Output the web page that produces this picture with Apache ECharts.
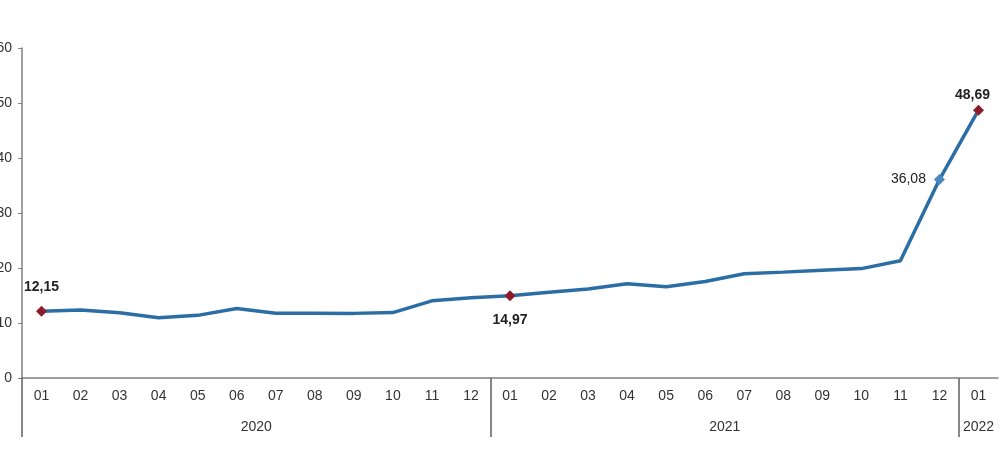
<!DOCTYPE html>
<html>
<head>
<meta charset="utf-8">
<script src="https://cdn.jsdelivr.net/npm/echarts@6/dist/echarts.min.js"></script>
<style>
  html, body { margin: 0; padding: 0; background: #fff; }
  #chart { width: 1000px; height: 471px; }
</style>
</head>
<body>
<div id="chart"></div>
<script>
// annual CPI change, %
var months = ['01','02','03','04','05','06','07','08','09','10','11','12',
              '01','02','03','04','05','06','07','08','09','10','11','12',
              '01'];
var years = ['2020', '2021', '2022'];
var yearSpans = [12, 12, 1];   // months per year group
var values = [12.15, 12.37, 11.86, 10.94, 11.39, 12.62, 11.76, 11.77, 11.75, 11.89, 14.03, 14.60,
              14.97, 15.61, 16.19, 17.14, 16.59, 17.53, 18.95, 19.25, 19.58, 19.89, 21.31, 36.08,
              48.69];
var labelled = [0, 12, 23, 24];

var darkRed = '#8b1c2c';
var lineBlue = '#2b6ea5';

function comma(v) {
    return String(v.toFixed(2)).replace('.', ',');
}

// year axis: half-month steps, label at the middle of each group
var yearAxisData = [];
var yearTicks = [];
(function () {
    var n = months.length * 2 + 1;
    for (var k = 0; k < n; k++) yearAxisData.push('');
    var start = 0;
    for (var i = 0; i < years.length; i++) {
        yearTicks.push(start * 2);
        yearAxisData[start * 2 + yearSpans[i]] = years[i];
        start += yearSpans[i];
    }
})();

var seriesData = values.map(function (v, i) {
    var item = { value: v, symbolSize: 0 };
    if (labelled.indexOf(i) < 0) return item;
    item.symbolSize = 11;
    item.itemStyle = { color: darkRed };
    item.label = { show: true, position: 'top', distance: 12, fontWeight: 'bold' };
    if (i === 12) {
        item.label.position = 'bottom';
    } else if (i === 23) {
        item.itemStyle = { color: '#4a88c0' };
        item.label = { show: true, position: 'left', distance: 8, fontWeight: 'normal' };
    } else if (i === 24) {
        item.label.distance = 3;
        item.label.offset = [-6, 0];
    }
    return item;
});

var chart = echarts.init(document.getElementById('chart'));
chart.setOption({
    animation: false,
    textStyle: { fontFamily: 'Liberation Sans, Arial, sans-serif' },
    grid: { left: 22, right: 2, top: 48, bottom: 93, containLabel: false, outerBoundsMode: 'none' },
    xAxis: [
        {
            type: 'category',
            data: months,
            boundaryGap: true,
            axisLine: { lineStyle: { color: '#808080', width: 1.5 } },
            axisTick: { interval: 0, length: 29, inside: false, lineStyle: { color: '#606060', width: 1.5 } },
            axisLabel: { interval: 0, margin: 11, color: '#333', fontSize: 14 }
        },
        {
            type: 'category',
            position: 'bottom',
            data: yearAxisData,
            boundaryGap: false,
            axisLine: { show: false },
            axisTick: {
                show: true,
                length: 59,
                interval: function (index) { return yearTicks.indexOf(index) >= 0; },
                lineStyle: { color: '#606060', width: 1.5 }
            },
            axisLabel: { interval: 0, margin: 42, color: '#333', fontSize: 14 }
        }
    ],
    yAxis: {
        type: 'value',
        min: 0,
        max: 60,
        interval: 10,
        splitLine: { show: false },
        axisLine: { show: true, lineStyle: { color: '#808080', width: 1.5 } },
        axisTick: { show: true, length: 4, lineStyle: { color: '#808080' } },
        axisLabel: { margin: 10, color: '#333', fontSize: 14 }
    },
    series: [{
        type: 'line',
        xAxisIndex: 0,
        data: seriesData,
        symbol: 'diamond',
        showAllSymbol: true,
        lineStyle: { color: lineBlue, width: 3.5 },
        itemStyle: { color: lineBlue },
        label: {
            color: '#222',
            fontSize: 14,
            formatter: function (p) { return comma(p.value); }
        },
        z: 3
    }]
});
</script>
</body>
</html>
